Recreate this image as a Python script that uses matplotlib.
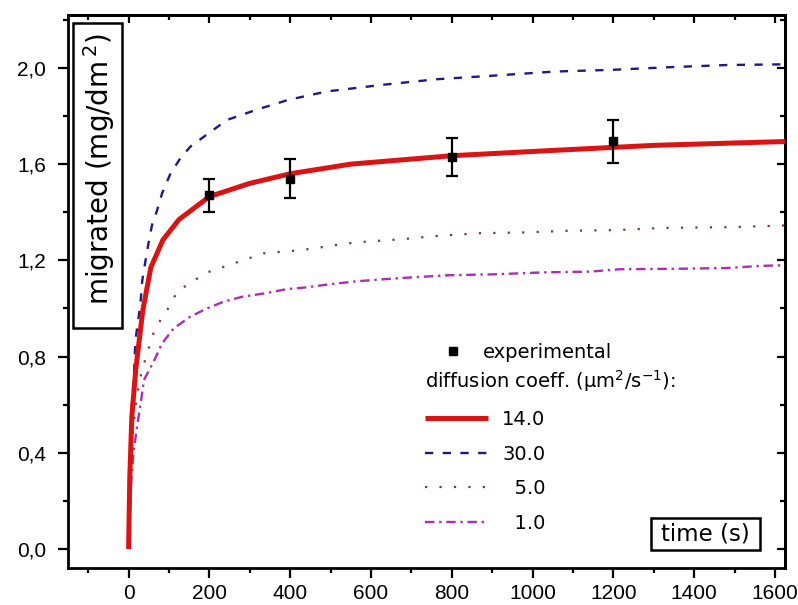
import matplotlib
matplotlib.use("Agg")
import matplotlib.pyplot as plt
from matplotlib.lines import Line2D
from matplotlib.patches import Rectangle
from matplotlib.ticker import MultipleLocator

# ---------------- data ----------------
t_14 = [0, 3, 8, 18, 35, 55, 85, 125, 200, 300, 400, 550, 800, 1050, 1300, 1625]
y_14 = [0, 0.30, 0.55, 0.75, 0.99, 1.17, 1.285, 1.37, 1.465, 1.52, 1.56, 1.60, 1.635, 1.657, 1.678, 1.694]

t_30 = [0, 4, 7, 9, 13, 17, 25, 30, 34, 42, 50, 58, 71, 83, 104, 128, 153, 188, 244, 320,
        395, 490, 630, 763, 895, 1056, 1197, 1339, 1480, 1625]
y_30 = [0, 0.35, 0.55, 0.62, 0.716, 0.869, 0.966, 1.035, 1.118, 1.20, 1.278, 1.347, 1.41, 1.479,
        1.562, 1.624, 1.673, 1.716, 1.784, 1.828, 1.867, 1.902, 1.93, 1.953, 1.967, 1.985,
        1.992, 2.003, 2.012, 2.015]

t_5 = [0, 4, 10, 20, 30, 42, 62, 80, 104, 120, 157, 195, 334, 409, 461, 513, 565, 678, 758,
       871, 980, 1089, 1212, 1324, 1490, 1625]
y_5 = [0, 0.30, 0.48, 0.63, 0.72, 0.793, 0.90, 0.955, 1.015, 1.07, 1.111, 1.15, 1.229, 1.24,
       1.25, 1.264, 1.275, 1.288, 1.301, 1.313, 1.316, 1.323, 1.326, 1.335, 1.338, 1.345]

t_1 = [0, 5, 12, 21, 30, 38, 62, 83, 112, 153, 190, 235, 282, 338, 390, 442, 499, 565, 669,
       791, 905, 1027, 1141, 1216, 1357, 1480, 1565, 1625]
y_1 = [0, 0.25, 0.40, 0.51, 0.606, 0.703, 0.779, 0.855, 0.918, 0.966, 0.997, 1.028, 1.049,
       1.063, 1.08, 1.088, 1.101, 1.113, 1.126, 1.138, 1.142, 1.15, 1.153, 1.163, 1.165,
       1.168, 1.177, 1.18]

t_exp = [200, 400, 800, 1200]
y_exp = [1.47, 1.54, 1.63, 1.695]
err_exp = [0.07, 0.08, 0.08, 0.09]

xtick_values = [0, 200, 400, 600, 800, 1000, 1200, 1400, 1600]
xtick_labels = ["0", "200", "400", "600", "800", "1000", "1200", "1400", "1600"]
ytick_values = [0.0, 0.4, 0.8, 1.2, 1.6, 2.0]
ytick_labels = ["0,0", "0,4", "0,8", "1,2", "1,6", "2,0"]

series_labels = ["14.0", "30.0", "  5.0", "  1.0"]

# ---------------- figure ----------------
W, H = 798, 605
fig = plt.figure(figsize=(W / 100, H / 100), dpi=100)
L, R, T, B = 68, 785, 15, 568
ax = fig.add_axes([L / W, (H - B) / H, (R - L) / W, (B - T) / H])

c_red = "#d81414"
c_blue = "#1c1c80"
c_brown = "#7a3a3a"
c_mag = "#b02cb0"

l14, = ax.plot(t_14, y_14, color=c_red, lw=3.6, solid_capstyle="butt", zorder=4)
l30, = ax.plot(t_30, y_30, color=c_blue, lw=1.7, linestyle=(0, (3.5, 4.0)), zorder=3)
l5, = ax.plot(t_5, y_5, color=c_brown, lw=1.6, linestyle=(0, (1, 5.5)), zorder=3)
l1, = ax.plot(t_1, y_1, color=c_mag, lw=1.7, linestyle=(0, (4, 2, 1, 2)), zorder=3)

ax.errorbar(t_exp, y_exp, yerr=err_exp, fmt="s", color="black", ms=6, capsize=4.3,
            elinewidth=1.6, capthick=1.6, zorder=5)

ax.set_xlim(-150, 1625)
ax.set_ylim(-0.079, 2.22)

for s in ax.spines.values():
    s.set_linewidth(2)

tick_font = "Liberation Sans"
ax.set_xticks(xtick_values, labels=xtick_labels)
ax.set_yticks(ytick_values, labels=ytick_labels)
for lab in ax.get_xticklabels() + ax.get_yticklabels():
    lab.set_fontfamily(tick_font)
    lab.set_fontsize(15)
ax.xaxis.set_minor_locator(MultipleLocator(100))
ax.yaxis.set_minor_locator(MultipleLocator(0.2))
ax.tick_params(which="major", direction="out", length=7.2, width=1.6)
ax.tick_params(which="minor", direction="out", length=3.8, width=1.6)
ax.tick_params(axis="x", pad=4)
ax.tick_params(axis="y", pad=8.5)

# top / right inward ticks
axt = ax.secondary_xaxis("top")
axt.set_xticks(xtick_values, labels=[""] * len(xtick_values))
axt.xaxis.set_minor_locator(MultipleLocator(100))
axt.tick_params(which="major", direction="in", length=6, width=1.6)
axt.tick_params(which="minor", direction="in", length=3.8, width=1.6)
axt.spines["top"].set_linewidth(2)
axr = ax.secondary_yaxis("right")
axr.set_yticks(ytick_values, labels=[""] * len(ytick_values))
axr.yaxis.set_minor_locator(MultipleLocator(0.2))
axr.tick_params(which="major", direction="in", length=6, width=1.6)
axr.tick_params(which="minor", direction="in", length=3.8, width=1.6)
axr.spines["right"].set_linewidth(2)

# boxed axis labels inside the plot
def fig_box(x0, y0, x1, y1):
    fig.add_artist(Rectangle((x0 / W, 1 - y1 / H), (x1 - x0) / W, (y1 - y0) / H,
                             transform=fig.transFigure, fc="white", ec="black",
                             lw=1.8, zorder=6))

fig_box(73, 23, 122, 328)
fig.text(99 / W, 1 - 169 / H, "migrated (mg/dm$^{\\,2}$)", rotation=90, fontsize=20,
         ha="center", va="center", zorder=7)
fig_box(651, 518, 760, 550)
fig.text(705.5 / W, 1 - 534 / H, "time (s)", fontsize=16.5, ha="center", va="center",
         zorder=7)

# legend
fs_leg = 14
em = fs_leg * 100 / 72
h_exp = Line2D([], [], marker="s", color="black", linestyle="none", ms=6)
leg1 = ax.legend([h_exp], ["experimental"], loc="center left", frameon=False,
                 bbox_to_anchor=((443 - L) / (R - L), (B - 352) / (B - T)),
                 fontsize=fs_leg, handlelength=1.0, handletextpad=1.05, borderpad=0,
                 borderaxespad=0)
ax.add_artist(leg1)
fig.text(425 / W, 1 - 381 / H, "diffusion coeff. (µm$^2$/s$^{-1}$):", fontsize=fs_leg,
         ha="left", va="center")
leg2 = ax.legend([l14, l30, l5, l1], series_labels, loc="upper left", frameon=False,
                 bbox_to_anchor=((425 - L) / (R - L), (B - 410) / (B - T)),
                 fontsize=fs_leg, handlelength=63 / em, handletextpad=14 / em,
                 labelspacing=0.8, borderpad=0, borderaxespad=0)

fig.savefig("out.png", dpi=100, facecolor="white")
